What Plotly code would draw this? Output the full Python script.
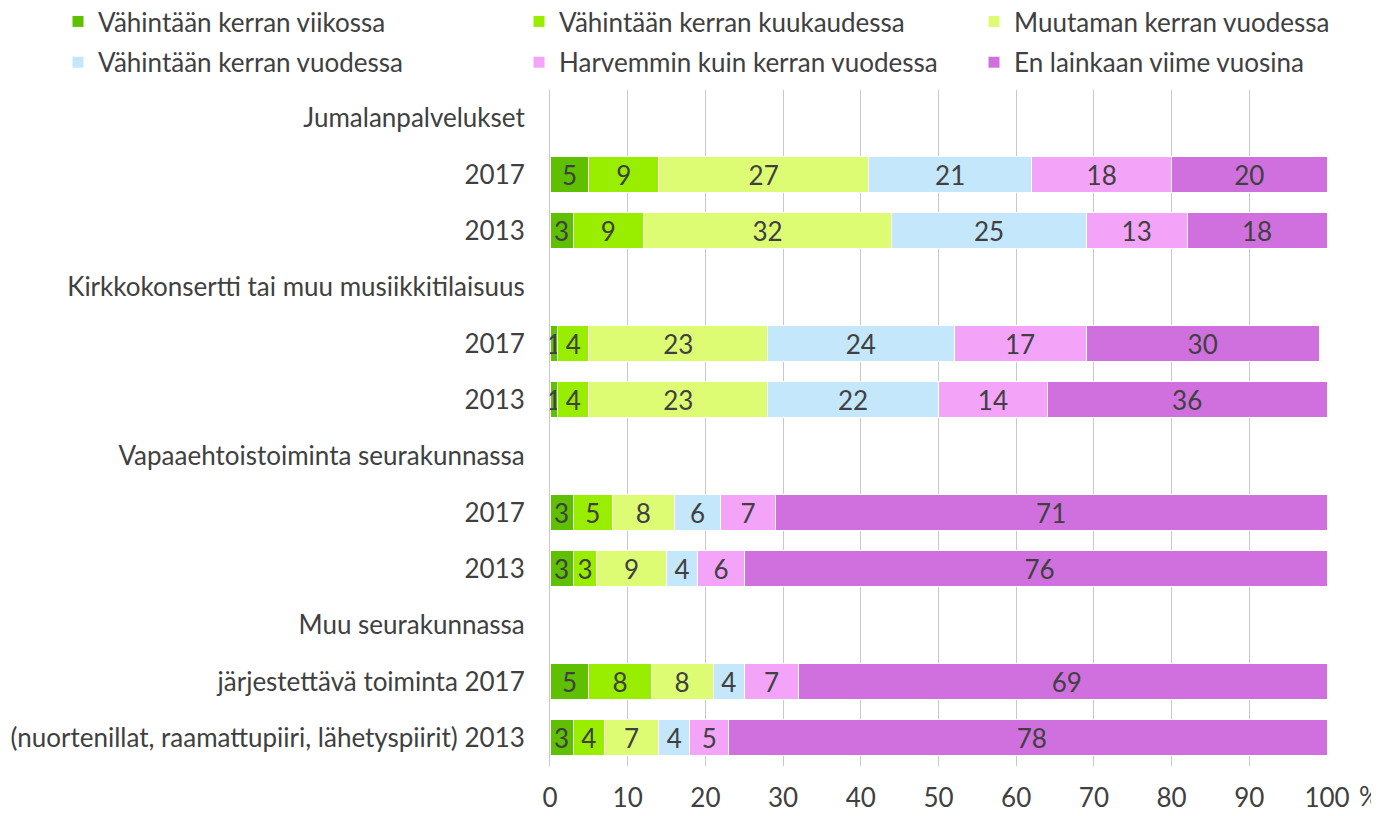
import plotly.graph_objects as go

row_ids = [f"r{i}" for i in range(12)]
row_labels = [
    "Jumalanpalvelukset", "2017", "2013",
    "Kirkkokonsertti tai muu musiikkitilaisuus", "2017", "2013",
    "Vapaaehtoistoiminta seurakunnassa", "2017", "2013",
    "Muu seurakunnassa", "järjestettävä toiminta 2017",
    "(nuortenillat, raamattupiiri, lähetyspiirit) 2013",
]

series_names = [
    "Vähintään kerran viikossa",
    "Vähintään kerran kuukaudessa",
    "Muutaman kerran vuodessa",
    "Vähintään kerran vuodessa",
    "Harvemmin kuin kerran vuodessa",
    "En lainkaan viime vuosina",
]
viikossa = [None, 5, 3, None, 1, 1, None, 3, 3, None, 5, 3]
kuukaudessa = [None, 9, 9, None, 4, 4, None, 5, 3, None, 8, 4]
muutaman = [None, 27, 32, None, 23, 23, None, 8, 9, None, 8, 7]
vuodessa = [None, 21, 25, None, 24, 22, None, 6, 4, None, 4, 4]
harvemmin = [None, 18, 13, None, 17, 14, None, 7, 6, None, 7, 5]
en_lainkaan = [None, 20, 18, None, 30, 36, None, 71, 76, None, 69, 78]
series_values = [viikossa, kuukaudessa, muutaman, vuodessa, harvemmin, en_lainkaan]
colors = ["#5EC000", "#99EE00", "#DDFC74", "#C4E7FB", "#F3A4F9", "#D070DF"]
x_ticks = [0, 10, 20, 30, 40, 50, 60, 70, 80, 90, 100]

FONT = "Lato"
TXT = "#404040"
FS = 26
legend_ids = ["legend", "legend2", "legend3", "legend", "legend2", "legend3"]

fig = go.Figure()
for name, vals, col, lg in zip(series_names, series_values, colors, legend_ids):
    fig.add_trace(go.Bar(
        y=row_ids, x=vals, name=name, orientation="h",
        marker=dict(color=col, line=dict(color="white", width=1)),
        width=0.64,
        texttemplate="%{x}", textposition="inside", insidetextanchor="middle",
        constraintext="none", textangle=0,
        textfont=dict(family=FONT, size=FS, color=TXT),
        legend=lg, legendgroup=name,
    ))

# page body has an 8px margin, so figure coords = screen coords - 8
W, H = 1371, 808
L, R, T, B = 542, 52, 82, 50
pw = W - L - R
ph = H - T - B

def px2x(px):
    return (px - L) / pw

leg_y = 1 + (T + 10) / ph
common_leg = dict(orientation="v", yanchor="top", y=leg_y, xanchor="left",
                  font=dict(family=FONT, size=FS, color=TXT),
                  bgcolor="rgba(0,0,0,0)", tracegroupgap=4, itemwidth=30)

fig.update_layout(
    width=W, height=H,
    margin=dict(l=L, r=R, t=T, b=B, autoexpand=False),
    barmode="stack",
    plot_bgcolor="white", paper_bgcolor="white",
    font=dict(family=FONT, size=FS, color=TXT),
    legend=dict(x=px2x(50), **common_leg),
    legend2=dict(x=px2x(511), **common_leg),
    legend3=dict(x=px2x(966), **common_leg),
    xaxis=dict(
        range=[0, 100], tickvals=x_ticks, ticktext=[str(v) for v in x_ticks],
        showgrid=True, gridcolor="#C8C8C8", gridwidth=1,
        ticks="", zeroline=False, showline=False,
        tickfont=dict(family=FONT, size=FS, color=TXT),
        ticklabelstandoff=14,
    ),
    yaxis=dict(
        categoryorder="array", categoryarray=row_ids,
        tickvals=row_ids, ticktext=row_labels,
        autorange="reversed",
        showline=True, linecolor="#C8C8C8", linewidth=1,
        showgrid=False, ticks="",
        tickfont=dict(family=FONT, size=FS, color=TXT),
        ticklabelstandoff=19,
    ),
    annotations=[dict(
        text="%", x=1.0, y=0, xref="paper", yref="paper",
        xanchor="left", yanchor="top", xshift=30, yshift=-12,
        showarrow=False, font=dict(family=FONT, size=FS, color=TXT),
    )],
)

fig.write_html("out.html")
